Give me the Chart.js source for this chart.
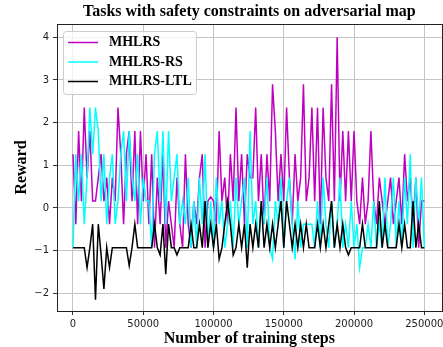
<!DOCTYPE html>
<html>
<head>
<meta charset="utf-8">
<script src="https://cdn.jsdelivr.net/npm/chart.js@4.4.1/dist/chart.umd.min.js"></script>
<style>
  html, body { margin: 0; padding: 0; overflow: hidden; background: #fff; }
  canvas { display: block; }
</style>
</head>
<body>
<canvas id="chart" width="452" height="352" style="width:452px;height:352px"></canvas>
<script>
// reward logged every 2000 training steps
const STEP = 2000;
const seriesNames = ['MHLRS', 'MHLRS-RS', 'MHLRS-LTL'];
const seriesColors = ['#bf00bf', '#00ffff', '#000000'];
const xTicks = [0, 50000, 100000, 150000, 200000, 250000];
const yTicks = [-2, -1, 0, 1, 2, 3, 4];

const mhlrs = [
  1.26, -0.38, 1.8, 0.16, 2.35, 0.71, 1.8, 0.16, 0.16, 0.71,
  1.26, 0.16, 0.71, -0.38, 0.71, 0.16, 2.35, 1.26, -0.38, 1.26,
  1.8, 0.16, 1.8, -0.38, 1.8, 0.16, 1.26, -0.38, 1.26, -0.93,
  0.71, -0.38, 1.26, -0.93, 0.16, -0.38, -0.93, 0.71, -0.38, -0.93,
  1.26, -0.38, -0.93, 0.16, -0.38, 0.71, 1.26, -0.93, 0.16, 0.26,
  0.16, -0.38, 1.8, 0.16, 0.71, -0.38, 1.26, 0.16, 2.35, 0.16,
  1.26, -0.38, 1.26, 0.71, 0.71, 2.35, 0.16, 1.26, -0.38, 1.26,
  0.16, 2.9, 1.8, 0.16, 1.26, 0.16, 2.35, 0.71, -0.38, 1.26,
  0.16, 0.71, 2.9, 0.16, 0.71, 2.35, 0.16, 2.35, -0.38, 2.35,
  0.71, 0.16, 2.9, 0.16, 4.0, 0.16, 1.8, 0.16, 1.8, 0.16,
  1.8, 0.16, -0.38, 0.71, -0.38, 0.16, 1.8, 0.16, -0.38, 0.71,
  0.16, -0.38, 0.16, 0.71, -0.38, 0.16, 0.71, -0.38, 1.26, 0.16,
  0.71, -0.38, 0.71, -0.93, 0.16, 0.16
];

const mhlrsRs = [
  -0.93, 1.26, 0.16, 1.26, -0.38, 0.71, 2.35, 1.26, 2.35, 1.8,
  0.16, 1.26, -0.38, 0.71, 1.26, -0.38, 0.16, 1.26, 1.8, 0.16,
  1.8, 0.71, 0.16, 1.26, -0.38, 0.71, 0.16, 0.16, -0.93, 1.26,
  1.8, 0.16, 1.8, -0.38, 1.8, 0.16, 0.71, 1.26, -0.38, 0.16,
  -0.38, 0.71, -0.93, 0.16, -0.93, 0.71, -0.38, 1.26, -0.93, 0.16,
  -0.93, 0.71, -0.38, 0.16, -0.93, -0.38, 0.16, -0.93, 0.71, -0.38,
  0.16, 0.71, -0.93, 1.8, -0.38, 0.16, -0.93, 0.16, -0.38, 0.71,
  -0.93, -1.2, 0.16, -0.38, 0.71, -0.93, 0.16, 0.71, -0.38, -1.2,
  0.16, -0.93, -0.38, -0.38, -0.38, -0.38, -0.93, 0.16, -0.93, 0.71,
  -0.38, -0.93, 0.16, -0.93, -0.38, 0.71, -0.93, -0.38, -0.93, 0.16,
  -0.93, -0.38, -1.4, -0.93, -0.93, -0.38, -0.93, 0.16, -0.93, -0.38,
  -0.93, 0.71, -0.93, -0.38, 0.71, -0.93, 0.16, -0.93, 0.71, -0.38,
  1.26, -0.93, 0.71, -0.38, 0.71, -0.93
];

const mhlrsLtl = [
  -0.93, -0.93, -0.93, -0.93, -0.93, -1.4, -0.93, -0.38, -2.15, -0.38,
  -1.1, -1.9, -0.93, -1.4, -0.93, -0.93, -0.93, -0.93, -0.93, -0.93,
  -1.35, -0.93, -0.38, -0.93, -0.93, -0.93, -0.93, -0.93, -0.93, -0.38,
  -0.93, -1.1, -0.38, -1.55, -0.38, -0.93, -0.93, -1.1, -0.93, -0.93,
  -0.93, -0.93, -0.38, -0.93, -0.93, -0.38, -0.93, 0.16, -0.93, -0.38,
  -0.93, -0.38, -1.2, -0.93, -0.38, 0.16, -0.38, -1.1, -0.93, -0.38,
  -0.93, -0.38, -1.4, -0.38, -0.93, -0.38, -0.93, 0.16, -0.93, -0.38,
  -0.93, -0.38, -0.93, -0.38, 0.16, -0.93, 0.16, -0.38, -0.93, -0.38,
  -0.93, -0.38, -0.93, -0.38, -0.93, -0.93, -0.93, -0.38, -0.93, -0.38,
  -0.93, -0.38, 0.16, -0.93, -0.38, -0.93, -0.38, -0.93, -1.1, -0.93,
  -0.93, -0.93, -0.93, -0.38, -0.93, -0.93, -0.93, -0.93, -0.93, 0.16,
  -0.93, -0.38, -0.93, -0.93, -0.93, -0.93, -0.38, -0.93, -0.38, -0.93,
  -0.93, 0.16, -0.93, -0.38, -0.93, -0.93
];

const allSeries = [mhlrs, mhlrsRs, mhlrsLtl];

function toPoints(values) {
  return values.map((v, i) => ({ x: i * STEP, y: v }));
}

// matplotlib style box around the plot
const frame = {
  id: 'frame',
  afterDatasetsDraw(chart) {
    const a = chart.chartArea, ctx = chart.ctx;
    ctx.save();
    ctx.strokeStyle = '#222';
    ctx.lineWidth = 1;
    ctx.strokeRect(Math.round(a.left) + 0.5, Math.round(a.top) + 0.5,
      Math.round(a.right - a.left), Math.round(a.bottom - a.top));
    ctx.restore();
  }
};

// legend drawn inside the plot, upper left
const legendBox = {
  id: 'legendBox',
  afterDraw(chart) {
    const a = chart.chartArea, ctx = chart.ctx;
    const x = a.left + 6.5, y = a.top + 7.5, w = 133, h = 63;
    ctx.save();
    ctx.beginPath();
    ctx.roundRect(x, y, w, h, 3);
    ctx.fillStyle = 'rgba(255,255,255,0.8)';
    ctx.fill();
    ctx.strokeStyle = '#cccccc';
    ctx.lineWidth = 1;
    ctx.stroke();
    ctx.font = 'bold 14px "Liberation Serif"';
    ctx.textBaseline = 'middle';
    chart.data.datasets.forEach((ds, i) => {
      const ry = y + 11 + i * 19.5;
      ctx.strokeStyle = ds.borderColor;
      ctx.lineWidth = 1.5;
      ctx.beginPath();
      ctx.moveTo(x + 4.5, ry);
      ctx.lineTo(x + 34.5, ry);
      ctx.stroke();
      ctx.fillStyle = '#000';
      ctx.fillText(ds.label, x + 45.5, ry);
    });
    ctx.restore();
  }
};

new Chart(document.getElementById('chart').getContext('2d'), {
  type: 'line',
  data: {
    datasets: allSeries.map((vals, i) => ({
      label: seriesNames[i],
      data: toPoints(vals),
      borderColor: seriesColors[i],
      backgroundColor: seriesColors[i],
      borderWidth: 1.5,
      pointRadius: 0,
      tension: 0,
      fill: false,
      order: 3 - i
    }))
  },
  options: {
    responsive: false,
    animation: false,
    devicePixelRatio: 1,
    layout: { padding: { left: 0, right: 10.3, top: 0, bottom: 0 } },
    plugins: {
      legend: { display: false },
      tooltip: { enabled: false },
      title: {
        display: true,
        fullSize: false,
        text: 'Tasks with safety constraints on adversarial map',
        color: '#000',
        font: { family: '"Liberation Serif"', size: 16, weight: 'bold' },
        padding: { top: 2, bottom: 2.8 }
      }
    },
    scales: {
      x: {
        type: 'linear',
        min: -11386,
        max: 262382,
        afterBuildTicks: s => { s.ticks = xTicks.map(v => ({ value: v })); },
        afterFit: s => { s.height = 41; },
        grid: { color: '#c4c4c4', lineWidth: 1, tickLength: 4, tickColor: '#333' },
        border: { display: false },
        ticks: {
          color: '#222',
          padding: 3,
          maxRotation: 0,
          font: { family: '"DejaVu Sans"', size: 10 },
          callback: v => String(v)
        },
        title: {
          display: true,
          text: 'Number of training steps',
          color: '#000',
          font: { family: '"Liberation Serif"', size: 16, weight: 'bold' },
          padding: { top: 0, bottom: 3.4 }
        }
      },
      y: {
        min: -2.415,
        max: 4.31,
        afterBuildTicks: s => { s.ticks = yTicks.map(v => ({ value: v })); },
        afterFit: s => { s.width = 57; },
        grid: { color: '#c4c4c4', lineWidth: 1, tickLength: 4, tickColor: '#333' },
        border: { display: false },
        ticks: {
          color: '#222',
          padding: 4,
          font: { family: '"DejaVu Sans"', size: 10 },
          callback: v => (v < 0 ? '\u2212' + Math.abs(v) : String(v))
        },
        title: {
          display: true,
          text: 'Reward',
          color: '#000',
          font: { family: '"Liberation Serif"', size: 16, weight: 'bold' },
          padding: { top: 12.4, bottom: 0 }
        }
      }
    }
  },
  plugins: [frame, legendBox]
});
</script>
</body>
</html>
